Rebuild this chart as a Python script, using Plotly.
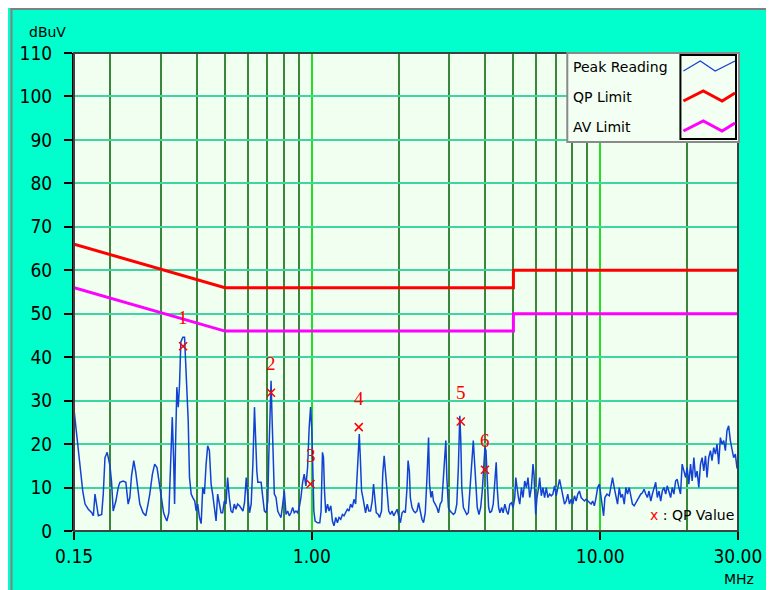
import numpy as np
import plotly.graph_objects as go

# ---------------- data ----------------
freq_mhz = [
    0.150, 0.1532, 0.1552, 0.1582, 0.1607, 0.1637, 0.1680, 0.1727, 0.1749, 0.1772,
    0.1797, 0.1820, 0.1869, 0.1893, 0.1919, 0.1953, 0.1997, 0.2023, 0.2049, 0.2094,
    0.2133, 0.2162, 0.2218, 0.2267, 0.2309, 0.2340, 0.2372, 0.2415, 0.2454, 0.2499,
    0.2534, 0.2601, 0.2657, 0.2706, 0.2744, 0.2802, 0.2854, 0.2907, 0.2952, 0.3009,
    0.3064, 0.3107, 0.3146, 0.3196, 0.3240, 0.3284, 0.3318, 0.3345, 0.3371, 0.3406,
    0.3444, 0.3480, 0.3516, 0.3573, 0.3622, 0.3650, 0.3688, 0.3729, 0.3768, 0.3819,
    0.3868, 0.3929, 0.3974, 0.4024, 0.4080, 0.4135, 0.4188, 0.4244, 0.4302, 0.4357,
    0.4416, 0.4477, 0.4533, 0.4596, 0.4658, 0.4717, 0.4780, 0.4846, 0.4908, 0.4975,
    0.5043, 0.5107, 0.5176, 0.5247, 0.5314, 0.5387, 0.5459, 0.5529,
    0.5617, 0.5772, 0.5846, 0.5926, 0.6006, 0.6083, 0.6165, 0.6249, 0.6329, 0.6378,
    0.6449, 0.6501, 0.6674, 0.6764, 0.6850, 0.6943, 0.7038, 0.7094, 0.7167, 0.7225,
    0.7282, 0.7358, 0.7416, 0.7518, 0.7620, 0.7718, 0.7822, 0.7929, 0.8031, 0.8141,
    0.8250, 0.8357, 0.8469, 0.8585, 0.8694, 0.8813, 0.8932, 0.9045, 0.9169, 0.9294,
    0.9413, 0.9540, 0.9671, 0.9794, 0.9904, 1.0006, 1.0087, 1.0165, 1.027, 1.047,
    1.066, 1.077, 1.089, 1.098, 1.107, 1.118, 1.134, 1.148, 1.164, 1.179,
    1.194, 1.211, 1.227, 1.243, 1.260, 1.277, 1.293, 1.311, 1.328, 1.345,
    1.364, 1.382, 1.400, 1.419, 1.434, 1.450, 1.461, 1.473, 1.488, 1.504,
    1.521, 1.536, 1.557, 1.577, 1.598, 1.620, 1.637, 1.654, 1.673, 1.700,
    1.717, 1.745, 1.762, 1.782, 1.800, 1.825, 1.848, 1.873, 1.898, 1.923,
    1.950, 1.976, 2.001, 2.028, 2.056,
    2.082, 2.110, 2.139, 2.157, 2.179, 2.196, 2.226, 2.255, 2.285, 2.316,
    2.346, 2.377, 2.409, 2.440, 2.474, 2.508, 2.540, 2.560, 2.589, 2.615,
    2.642, 2.678, 2.714, 2.749, 2.787, 2.825, 2.861, 2.893, 2.915, 2.939,
    2.976, 3.017, 3.058, 3.097, 3.139, 3.182, 3.222, 3.259, 3.285, 3.311,
    3.354, 3.399, 3.445, 3.489, 3.536, 3.584, 3.630, 3.670, 3.709, 3.747,
    3.798, 3.850, 3.899, 3.943, 3.984, 4.016, 4.058, 4.103, 4.146, 4.202,
    4.256, 4.313, 4.358, 4.393, 4.442, 4.488, 4.549, 4.606, 4.669, 4.733,
    4.794, 4.858, 4.924, 4.987, 5.055, 5.095, 5.148, 5.205, 5.259, 5.331,
    5.399, 5.472, 5.546, 5.617, 5.694, 5.772, 5.846, 5.892, 5.972, 6.035,
    6.116, 6.165, 6.249, 6.329, 6.414, 6.502, 6.584, 6.674, 6.764, 6.851,
    6.944, 7.038, 7.129, 7.226, 7.324, 7.418, 7.518, 7.620,
    7.717, 7.822, 7.929, 8.031, 8.140, 8.250, 8.357, 8.469, 8.585, 8.694,
    8.813, 8.932, 9.045, 9.169, 9.294, 9.413, 9.540, 9.671, 9.794, 9.928,
    10.06, 10.19, 10.27, 10.38, 10.55, 10.75, 10.89, 11.03, 11.18, 11.33,
    11.48, 11.64, 11.79, 11.94, 12.11, 12.27, 12.43, 12.60, 12.77, 12.93,
    13.11, 13.28, 13.45, 13.64, 13.82, 14.00, 14.19, 14.38, 14.57, 14.76,
    14.97, 15.16, 15.36, 15.57, 15.77, 15.99, 16.20, 16.41, 16.63, 16.86,
    17.07, 17.31, 17.54, 17.76, 18.00, 18.25, 18.48, 18.73, 18.98, 19.23,
    19.50, 19.76, 20.01, 20.28, 20.56, 20.83, 21.11, 21.39, 21.67, 21.96,
    22.26, 22.55, 22.85, 23.16, 23.45, 23.77, 24.10, 24.40, 24.74, 25.08,
    25.39, 25.74, 26.09, 26.43, 26.79, 27.15, 27.50, 27.87, 28.25, 28.60,
    29.00, 29.40, 29.77, 30.00,
]

level_dbuv = [
    27.7, 21.5, 17.7, 12.3, 9.2, 6.2, 5.0, 4.2, 3.5, 8.5,
    5.4, 3.5, 3.8, 8.5, 16.9, 18.1, 15.0, 11.2, 4.6, 6.9,
    10.0, 11.2, 11.5, 11.2, 6.2, 7.7, 12.7, 16.2, 13.5, 10.0,
    6.2, 4.2, 3.5, 6.2, 8.5, 13.1, 15.4, 14.6, 11.5, 6.9,
    4.2, 3.1, 2.3, 4.2, 13.8, 26.2, 16.9, 6.2, 20.0, 33.1,
    28.5, 33.8, 43.5, 44.6, 44.6, 39.2, 31.5, 25.4, 12.3, 8.5,
    7.7, 6.9, 4.6, 6.2, 3.1, 1.7, 10.0, 8.5, 15.4, 19.6,
    18.5, 10.8, 8.5, 4.6, 2.3, 8.5, 6.2, 4.2, 4.2, 6.9,
    6.2, 12.3, 7.7, 4.6, 4.2, 6.2, 5.0, 6.2,
    5.8, 4.6, 6.5, 12.3, 7.7, 4.2, 6.2, 15.4, 28.5, 20.0,
    13.8, 11.2, 11.2, 7.7, 4.6, 4.2, 6.9, 16.9, 29.6, 34.6,
    26.2, 13.8, 8.5, 7.7, 4.6, 3.8, 3.1, 6.2, 9.2, 3.8,
    4.6, 3.5, 4.2, 5.4, 4.2, 4.6, 4.2, 5.4, 7.7, 11.2,
    13.1, 10.4, 14.6, 23.8, 28.5, 23.1, 8.5, 4.6, 2.3, 1.9,
    1.9, 4.6, 18.1, 16.9, 9.2, 4.2, 6.2, 4.6, 5.8, 2.3,
    1.2, 3.1, 1.9, 3.1, 2.7, 3.8, 3.5, 4.2, 5.0, 4.6,
    6.2, 5.4, 7.3, 6.2, 13.1, 20.8, 22.3, 16.9, 9.2, 7.7,
    6.2, 4.2, 6.2, 4.6, 4.6, 6.9, 10.8, 7.7, 4.2, 3.8,
    3.1, 4.6, 13.1, 17.3, 13.8, 9.2, 4.6, 3.8, 4.6, 3.5,
    4.2, 5.0, 3.5, 1.9, 4.2,
    4.6, 4.2, 10.0, 16.2, 13.8, 7.7, 5.4, 4.6, 4.2, 4.6,
    6.5, 4.6, 2.7, 1.9, 4.2, 12.3, 21.5, 10.8, 7.7, 9.2,
    6.9, 6.2, 5.4, 4.2, 6.2, 6.9, 13.1, 20.0, 20.8, 12.3,
    5.4, 4.6, 4.2, 3.8, 4.2, 6.2, 14.6, 26.5, 20.8, 10.0,
    5.4, 4.6, 3.8, 4.2, 10.0, 15.4, 20.8, 15.4, 9.2, 5.4,
    3.8, 5.4, 9.2, 14.6, 19.2, 18.5, 10.8, 5.4, 4.2, 4.6,
    6.2, 11.5, 15.8, 10.0, 5.4, 4.2, 5.4, 4.2, 6.2, 4.6,
    3.8, 6.2, 6.5, 5.4, 7.7, 12.3, 9.2, 7.7, 6.2, 10.0,
    7.7, 11.5, 10.0, 12.3, 7.7, 10.0, 15.4, 13.1, 3.8, 7.7,
    10.0, 12.3, 8.1, 10.0, 7.7, 10.0, 7.7, 8.5, 8.1, 8.5,
    10.4, 8.1, 10.0, 11.9, 10.0, 7.7, 6.2, 6.9,
    8.5, 6.2, 7.3, 6.2, 8.1, 6.9, 8.5, 9.2, 7.7, 7.3,
    6.9, 7.3, 6.9, 6.5, 6.2, 6.9, 5.8, 7.7, 10.0, 10.8,
    7.7, 4.6, 3.5, 7.7, 8.5, 8.1, 10.0, 12.3, 10.0, 7.7,
    6.2, 10.0, 7.7, 8.5, 6.2, 10.0, 8.5, 10.0, 7.7, 6.2,
    5.8, 6.5, 7.3, 7.7, 8.5, 8.8, 9.6, 8.5, 7.7, 9.2,
    6.9, 8.5, 10.0, 11.2, 7.7, 9.2, 6.9, 9.2, 10.0, 8.5,
    10.4, 9.2, 7.7, 10.0, 8.5, 11.5, 11.9, 10.0, 8.5, 15.4,
    13.8, 12.3, 14.6, 10.8, 15.4, 11.5, 16.9, 12.3, 13.8, 10.0,
    15.4, 16.9, 13.8, 17.3, 12.3, 16.9, 18.5, 16.2, 19.2, 17.7,
    20.0, 15.4, 21.5, 20.0, 20.8, 18.5, 23.1, 24.2, 20.8, 18.5,
    16.9, 17.7, 14.6, 14.2,
]

qp_freq = [0.358, 0.722, 0.990, 1.455, 3.285, 3.984]
qp_level = [42.5, 31.8, 10.8, 23.9, 25.2, 14.1]
qp_labels = ["1", "2", "3", "4", "5", "6"]

qp_limit_freq = [0.15, 0.5, 5.0, 5.0, 30.0]
qp_limit_level = [66, 56, 56, 60, 60]
av_limit_freq = [0.15, 0.5, 5.0, 5.0, 30.0]
av_limit_level = [56, 46, 46, 50, 50]

x_tick_vals = [0.15, 1, 10, 30]
x_tick_text = ["0.15", "1.00", "10.00", "30.00"]
x_minor_vals = [0.2, 0.3, 0.4, 0.5, 0.6, 0.7, 0.8, 0.9, 2, 3, 4, 5, 6, 7, 8, 9, 20]
y_tick_vals = [0, 10, 20, 30, 40, 50, 60, 70, 80, 90, 100, 110]

legend_names = ["Peak Reading", "QP Limit", "AV Limit"]

# ---------------- styling ----------------
# the page has an 8px body margin; figure is placed at (8, 8)
OFF = 8
W, H = 774 - OFF, 590 - OFF
L, R, T, B = 72, 741, 53, 531          # plot area in page pixels
AQUA = "#00FFCC"
PLOTBG = "#F0FFF0"
BLUE = "#1242D4"
RED = "#FF0000"
MAGENTA = "#FF00FF"
TICKFONT = "Liberation Sans Narrow, DejaVu Sans Condensed, Liberation Sans, sans-serif"
SMALLFONT = "DejaVu Sans, Liberation Sans, sans-serif"


def px(x):
    return (x - L) / (R - L)


def py(y):
    return (B - y) / (B - T)


fig = go.Figure()

fig.add_trace(go.Scatter(x=freq_mhz, y=level_dbuv, mode="lines",
                         line=dict(color=BLUE, width=1.5), name=legend_names[0],
                         showlegend=False))
fig.add_trace(go.Scatter(x=qp_limit_freq, y=qp_limit_level, mode="lines",
                         line=dict(color=RED, width=3), name=legend_names[1],
                         showlegend=False))
fig.add_trace(go.Scatter(x=av_limit_freq, y=av_limit_level, mode="lines",
                         line=dict(color=MAGENTA, width=3), name=legend_names[2],
                         showlegend=False))
fig.add_trace(go.Scatter(x=qp_freq, y=qp_level, mode="markers",
                         marker=dict(symbol="x-thin", size=8,
                                     line=dict(color=RED, width=1.5)),
                         showlegend=False))

annotations = []
for f, v, t in zip(qp_freq, qp_level, qp_labels):
    annotations.append(dict(x=np.log10(f), y=v, xref="x", yref="y", text=t,
                            showarrow=False, yshift=29,
                            font=dict(family="Liberation Serif, serif", size=19, color=RED)))

# axis captions
annotations.append(dict(x=px(25), y=py(32), xref="paper", yref="paper", text="dBuV",
                        showarrow=False, xanchor="left", yanchor="middle",
                        font=dict(family=SMALLFONT, size=14, color="black")))
annotations.append(dict(x=px(725), y=py(579), xref="paper", yref="paper", text="MHz",
                        showarrow=False, xanchor="left", yanchor="middle",
                        font=dict(family=SMALLFONT, size=14, color="black")))
annotations.append(dict(x=px(739), y=py(515), xref="paper", yref="paper",
                        text="<span style='color:#ff0000'>x</span> : QP Value",
                        showarrow=False, xanchor="right", yanchor="middle",
                        font=dict(family=SMALLFONT, size=14, color="black")))
# legend texts
for name, yc in zip(legend_names, [67, 97, 127]):
    annotations.append(dict(x=px(573), y=py(yc), xref="paper", yref="paper", text=name,
                            showarrow=False, xanchor="left", yanchor="middle",
                            font=dict(family=SMALLFONT, size=14, color="black")))

shapes = [
    # gray window frame on the left and top edges of the figure
    dict(type="line", xref="paper", yref="paper", x0=px(OFF + 1), x1=px(OFF + 1),
         y0=py(OFF), y1=py(600), line=dict(color="#808080", width=2)),
    dict(type="line", xref="paper", yref="paper", x0=px(OFF), x1=px(790),
         y0=py(OFF + 1), y1=py(OFF + 1), line=dict(color="#808080", width=2)),
    # plot frame
    dict(type="rect", xref="paper", yref="paper", x0=0, x1=1, y0=0, y1=1,
         line=dict(color="#404040", width=2), layer="above"),
    # legend box
    dict(type="rect", xref="paper", yref="paper", x0=px(569), x1=px(742), y0=py(142), y1=py(53),
         fillcolor="#F2FFF2", line=dict(color="#8A8A8A", width=2), layer="above"),
    dict(type="rect", xref="paper", yref="paper", x0=px(683), x1=px(739), y0=py(139), y1=py(55),
         line=dict(color="black", width=2), layer="above"),
]


def wave(pts):
    return "M " + " L ".join(f"{px(a):.5f},{py(b):.5f}" for a, b in pts)


shapes.append(dict(type="path", xref="paper", yref="paper", layer="above",
                   path=wave([(686, 71), (703, 61), (718, 71), (738, 61)]),
                   line=dict(color=BLUE, width=1.3)))
shapes.append(dict(type="path", xref="paper", yref="paper", layer="above",
                   path=wave([(686, 101), (706, 91), (725, 101), (738, 93)]),
                   line=dict(color=RED, width=3)))
shapes.append(dict(type="path", xref="paper", yref="paper", layer="above",
                   path=wave([(686, 131), (706, 121), (725, 131), (738, 123)]),
                   line=dict(color=MAGENTA, width=3)))

fig.update_layout(
    width=W, height=H, autosize=False,
    margin=dict(l=L - OFF, r=W - (R - OFF), t=T - OFF, b=H - (B - OFF), pad=0),
    paper_bgcolor=AQUA, plot_bgcolor=PLOTBG,
    showlegend=False,
    annotations=annotations, shapes=shapes,
    xaxis=dict(type="log",
               range=[np.log10(0.15) - 0.0004, np.log10(30) + 0.0004],
               tickmode="array", tickvals=x_tick_vals, ticktext=x_tick_text,
               ticks="outside", ticklen=8, tickwidth=2, tickcolor="black",
               showgrid=True, gridcolor="#22DD22", gridwidth=1.5,
               minor=dict(tickmode="array", tickvals=x_minor_vals, showgrid=True,
                          gridcolor="#3A863A", gridwidth=2, ticks=""),
               showline=False, zeroline=False,
               tickfont=dict(family=TICKFONT, size=19, color="black")),
    yaxis=dict(range=[0, 110], tickmode="array", tickvals=y_tick_vals,
               ticks="outside", ticklen=8, tickwidth=2, tickcolor="black",
               ticklabelstandoff=8,
               showgrid=True, gridcolor="#3DD6A3", gridwidth=2,
               showline=True, linecolor="black", linewidth=2, zeroline=False,
               tickfont=dict(family=TICKFONT, size=19, color="black")),
)

fig.write_html("out.html")
